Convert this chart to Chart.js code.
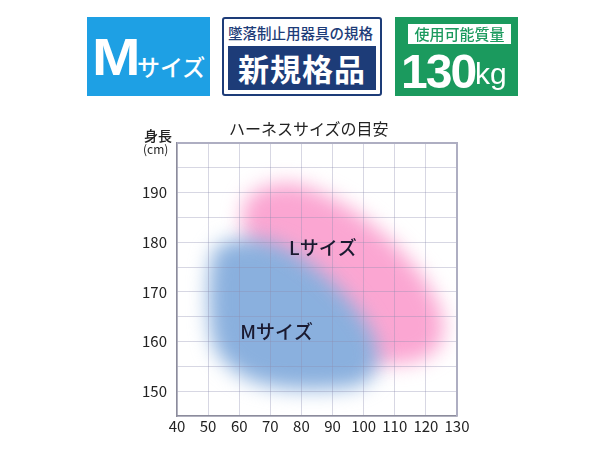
<!DOCTYPE html>
<html>
<head>
<meta charset="utf-8">
<script src="https://cdn.jsdelivr.net/npm/chart.js@4.4.1/dist/chart.umd.min.js"></script>
<style>
  body { margin: 0; background: #fff; font-family: "Noto Sans CJK JP", sans-serif; }
  #page { position: relative; width: 600px; height: 450px; overflow: hidden; }
  #wrap { position: absolute; left: 0; top: 0; width: 600px; height: 450px; }
  .abs { position: absolute; white-space: nowrap; }
  .badge-m { left: 87px; top: 17px; width: 123px; height: 79px; background: #1ea0e4; color: #fff; }
  .badge-new { left: 222px; top: 17px; width: 156px; height: 75px; border: 2px solid #1d3c78; border-radius: 3px; background: #fff; }
  .badge-kg { left: 395px; top: 17px; width: 123px; height: 79px; background: #1b9a5e; color: #fff; }
</style>
</head>
<body>
<div id="page">
  <div id="wrap"><canvas id="size_chart" width="600" height="450"></canvas></div>

  <div class="abs badge-m">
    <span class="abs" style="left:5px;top:14px;font:bold 52px/1 'Liberation Sans',sans-serif;transform:scaleX(1.12);transform-origin:left;">M</span>
    <span class="abs" style="left:50px;top:32px;font:500 23px 'Noto Sans CJK JP';">サイズ</span>
  </div>

  <div class="abs badge-new">
    <span class="abs" style="left:4px;top:3px;font:500 14.5px 'Noto Sans CJK JP';color:#1d3c78;">墜落制止用器具の規格</span>
    <div class="abs" style="left:4px;top:27px;width:148px;height:44px;background:#1d3c78;color:#fff;text-align:center;font:bold 31px/44px 'Noto Sans CJK JP';letter-spacing:1px;">新規格品</div>
  </div>

  <div class="abs badge-kg">
    <div class="abs" style="left:13px;top:7px;width:103px;height:20px;background:#fff;color:#1b9a5e;text-align:center;font:500 15px/20px 'Noto Sans CJK JP';">使用可能質量</div>
    <span class="abs" style="left:6px;top:27px;font:bold 48px 'Liberation Sans',sans-serif;letter-spacing:-2px;">130</span>
    <span class="abs" style="left:80px;top:40px;font:500 30px 'Liberation Sans',sans-serif;">kg</span>
  </div>

  <span class="abs" style="left:229px;top:116px;font:400 16px 'Noto Sans CJK JP';color:#222;">ハーネスサイズの目安</span>
  <span class="abs" style="left:144px;top:125px;font:500 14px 'Noto Sans CJK JP';color:#222;">身長</span>
  <span class="abs" style="left:143px;top:140px;font:400 12px 'Noto Sans CJK JP';color:#222;">(cm)</span>
</div>

<script>
// weight (kg) / height (cm) outline of each size zone
const weight_m = [51.3, 54.5, 60.3, 67.3, 76.3, 89.2, 100.4, 104.6, 103.6, 98.8, 86.0, 73.1, 63.5, 56.4, 51.9, 50.3, 50.3]
const height_m = [177.4, 179.7, 180.5, 180.5, 178.4, 172.4, 164.3, 158.3, 153.9, 151.3, 150.4, 150.8, 152.3, 155.3, 159.3, 166.4, 172.4]

const weight_l = [60.9, 62.8, 67.3, 74.7, 81.1, 89.2, 98.8, 110.1, 119.7, 125.2, 124.5, 118.1, 106.9, 97.2, 90.8, 82.8, 74.7, 66.7, 61.9]
const height_l = [185.5, 188.9, 190.9, 191.9, 191.3, 189.1, 185.5, 179.5, 172.4, 165.4, 159.3, 156.3, 155.5, 156.3, 160.3, 166.4, 171.4, 176.4, 180.5]

const zone_names = ["Mサイズ", "Lサイズ"]
const zone_label_x = [72.0, 86.9]
const zone_label_y = [161.9, 178.8]

const x_ticks = [40, 50, 60, 70, 80, 90, 100, 110, 120, 130]
const y_tick_labels = [150, 160, 170, 180, 190]

const to_points = (xs, ys) => xs.map((x, i) => ({x: x, y: ys[i]}))

const blob_plugin = {
    id: "blobs",
    beforeDatasetsDraw(chart) {
        chart.ctx.save()
        chart.ctx.filter = "blur(10px)"
    },
    afterDatasetsDraw(chart) {
        chart.ctx.restore()
    },
    afterDraw(chart) {
        const ctx = chart.ctx
        const area = chart.chartArea
        const xs = chart.scales.x, ys = chart.scales.y
        ctx.save()
        // top and right frame
        ctx.strokeStyle = "#aeaec2"
        ctx.lineWidth = 2
        ctx.beginPath()
        ctx.moveTo(area.left, area.top)
        ctx.lineTo(area.right, area.top)
        ctx.lineTo(area.right, area.bottom)
        ctx.stroke()
        // zone names
        ctx.fillStyle = "#1a1a30"
        ctx.font = "500 19px 'Noto Sans CJK JP'"
        ctx.textAlign = "center"
        ctx.textBaseline = "middle"
        zone_names.forEach((name, i) => {
            ctx.fillText(name, xs.getPixelForValue(zone_label_x[i]), ys.getPixelForValue(zone_label_y[i]))
        })
        ctx.restore()
    }
}

const size_config = {
    type: "scatter",
    data: {
        datasets: [{
            label: "M",
            data: to_points(weight_m, height_m),
            showLine: true,
            fill: "shape",
            tension: 0.3,
            backgroundColor: "rgb(138, 176, 222)",
            borderWidth: 0,
            pointRadius: 0
        }, {
            label: "L",
            data: to_points(weight_l, height_l),
            showLine: true,
            fill: "shape",
            tension: 0.3,
            backgroundColor: "rgba(250, 150, 202, 0.85)",
            borderWidth: 0,
            pointRadius: 0
        }]
    },
    options: {
        responsive: false,
        devicePixelRatio: 1,
        animation: false,
        layout: {padding: {left: 0, top: 143, right: 143, bottom: 0}},
        plugins: {legend: {display: false}, tooltip: {enabled: false}},
        scales: {
            x: {
                type: "linear",
                min: 40,
                max: 130,
                afterBuildTicks: (scale) => { scale.ticks = x_ticks.map((v) => ({value: v})) },
                afterFit: (scale) => { scale.height = 34 },
                ticks: {color: "#222", padding: 1, font: {family: "Noto Sans CJK JP", size: 15}},
                grid: {color: "rgba(140, 140, 175, 0.35)", drawTicks: false, z: 1},
                border: {color: "#8c8c9c", width: 1.5, z: 2}
            },
            y: {
                type: "linear",
                min: 145,
                max: 200,
                ticks: {
                    stepSize: 5,
                    color: "#222",
                    padding: 10,
                    font: {family: "Noto Sans CJK JP", size: 15},
                    callback: (v) => y_tick_labels.includes(v) ? String(v) : ""
                },
                afterFit: (scale) => { scale.width = 177 },
                grid: {color: "rgba(140, 140, 175, 0.35)", drawTicks: false, z: 1},
                border: {color: "#8c8c9c", width: 1.5, z: 2}
            }
        }
    },
    plugins: [blob_plugin]
}

var size_chart = new Chart(document.getElementById("size_chart"), size_config)
</script>
</body>
</html>
